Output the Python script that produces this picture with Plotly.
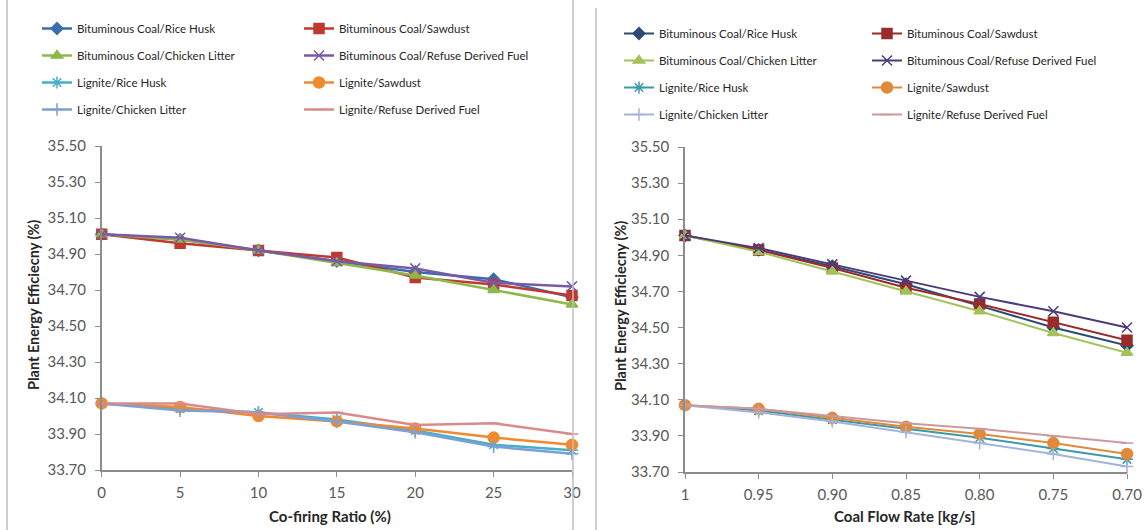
import plotly.graph_objects as go

W, H = 1145, 530

series_names = [
    "Bituminous Coal/Rice Husk", "Bituminous Coal/Sawdust",
    "Bituminous Coal/Chicken Litter", "Bituminous Coal/Refuse Derived Fuel",
    "Lignite/Rice Husk", "Lignite/Sawdust",
    "Lignite/Chicken Litter", "Lignite/Refuse Derived Fuel",
]

# Left chart: co-firing ratio
cofiring_ratio = ["0", "5", "10", "15", "20", "25", "30"]
left_bc_rh = [35.01, 34.98, 34.92, 34.86, 34.80, 34.76, 34.66]
left_bc_sd = [35.01, 34.96, 34.92, 34.88, 34.77, 34.73, 34.67]
left_bc_cl = [35.01, 34.98, 34.92, 34.85, 34.78, 34.70, 34.62]
left_bc_rdf = [35.01, 34.99, 34.92, 34.86, 34.82, 34.74, 34.72]
left_l_rh = [34.07, 34.04, 34.02, 33.98, 33.92, 33.84, 33.81]
left_l_sd = [34.07, 34.05, 34.00, 33.97, 33.93, 33.88, 33.84]
left_l_cl = [34.07, 34.03, 34.02, 33.97, 33.91, 33.83, 33.79]
left_l_rdf = [34.07, 34.07, 34.01, 34.02, 33.95, 33.96, 33.90]

# Right chart: coal flow rate
coal_flow = ["1", "0.95", "0.90", "0.85", "0.80", "0.75", "0.70"]
right_bc_rh = [35.01, 34.93, 34.84, 34.74, 34.62, 34.50, 34.40]
right_bc_sd = [35.01, 34.93, 34.83, 34.72, 34.63, 34.53, 34.43]
right_bc_cl = [35.01, 34.92, 34.81, 34.70, 34.59, 34.47, 34.36]
right_bc_rdf = [35.01, 34.94, 34.85, 34.76, 34.67, 34.59, 34.50]
right_l_rh = [34.07, 34.04, 33.99, 33.94, 33.89, 33.83, 33.77]
right_l_sd = [34.07, 34.05, 34.00, 33.95, 33.91, 33.86, 33.80]
right_l_cl = [34.07, 34.03, 33.98, 33.92, 33.86, 33.80, 33.73]
right_l_rdf = [34.07, 34.05, 34.01, 33.97, 33.94, 33.90, 33.86]

y_ticks = [33.70, 33.90, 34.10, 34.30, 34.50, 34.70, 34.90, 35.10, 35.30, 35.50]

left_values = [left_bc_rh, left_bc_sd, left_bc_cl, left_bc_rdf,
               left_l_rh, left_l_sd, left_l_cl, left_l_rdf]
right_values = [right_bc_rh, right_bc_sd, right_bc_cl, right_bc_rdf,
                right_l_rh, right_l_sd, right_l_cl, right_l_rdf]

left_colors = ["#3A6CB0", "#C0392F", "#8DB84A", "#7A5AA6",
               "#45AFC9", "#F08A2E", "#7C9FD6", "#D98A8A"]
right_colors = ["#2B4A74", "#9B2B2B", "#A3C25A", "#4B3B7A",
                "#3B9AA8", "#E08A3A", "#A4B4D8", "#C99AA0"]
symbols = ["diamond", "square", "triangle-up", "x-thin-open",
           "asterisk-open", "circle", "cross-thin-open", "line-ew-open"]
sizes = [9, 10, 10, 10, 10, 11, 9, 9]

FONT = "Lato"

fig = go.Figure()

def px_x(p):
    return p / W

def px_y(p):
    return 1 - p / H

for i, name in enumerate(series_names):
    leg = "legend" if i % 2 == 0 else "legend2"
    fig.add_trace(go.Scatter(
        x=cofiring_ratio, y=left_values[i], name=name, mode="lines+markers",
        xaxis="x", yaxis="y", legend=leg, legendgroup="L%d" % i,
        line=dict(color=left_colors[i], width=2.5),
        marker=dict(symbol=symbols[i], size=sizes[i], color=left_colors[i],
                    line=dict(color=left_colors[i], width=1.5)),
        cliponaxis=False,
    ))
for i, name in enumerate(series_names):
    leg = "legend3" if i % 2 == 0 else "legend4"
    fig.add_trace(go.Scatter(
        x=coal_flow, y=right_values[i], name=name, mode="lines+markers",
        xaxis="x2", yaxis="y2", legend=leg, legendgroup="R%d" % i,
        line=dict(color=right_colors[i], width=2),
        marker=dict(symbol=symbols[i], size=sizes[i], color=right_colors[i],
                    line=dict(color=right_colors[i], width=1.5)),
        cliponaxis=False,
    ))

axis_common = dict(showgrid=False, zeroline=False, showline=True,
                   linecolor="#8C8C8C", linewidth=1.5, ticks="outside",
                   ticklen=5, tickcolor="#8C8C8C", automargin=False,
                   tickfont=dict(family=FONT, size=15, color="#595959"))

fig.update_layout(
    width=W, height=H,
    margin=dict(l=0, r=0, t=0, b=0),
    paper_bgcolor="white", plot_bgcolor="white",
    font=dict(family=FONT, color="#404040"),
    showlegend=True,
    xaxis=dict(domain=[px_x(101.7), px_x(572)], type="category",
               range=[0, 6], anchor="y", ticklabelstandoff=3, **axis_common),
    yaxis=dict(domain=[px_y(470), px_y(146)], range=[33.70, 35.50],
               tickvals=y_ticks, tickformat=".2f", anchor="x",
               ticklabelstandoff=6, **axis_common),
    xaxis2=dict(domain=[px_x(685), px_x(1127)], type="category",
                range=[0, 6], anchor="y2", ticklabelstandoff=3, **axis_common),
    yaxis2=dict(domain=[px_y(472), px_y(147)], range=[33.70, 35.50],
                tickvals=y_ticks, tickformat=".2f", anchor="x2",
                ticklabelstandoff=6, **axis_common),
)

leg_common = dict(orientation="v", bgcolor="rgba(0,0,0,0)", borderwidth=0,
                  font=dict(family=FONT, size=11.5, color="#262626"),
                  tracegroupgap=8, itemwidth=30, xanchor="left", yanchor="top")
fig.update_layout(
    legend=dict(x=px_x(37), y=px_y(14), **leg_common),
    legend2=dict(x=px_x(299), y=px_y(14), **leg_common),
    legend3=dict(x=px_x(619), y=px_y(19), **leg_common),
    legend4=dict(x=px_x(867), y=px_y(19), **leg_common),
)

annotations = [
    dict(text="<b>Co-firing Ratio (%)</b>", x=px_x(330), y=px_y(516), size=15),
    dict(text="<b>Coal Flow Rate [kg/s]</b>", x=px_x(904), y=px_y(516), size=15),
    dict(text="<b>Plant Energy Efficiecny (%)</b>", x=px_x(33), y=px_y(305),
         textangle=-90, size=14.5),
    dict(text="<b>Plant Energy Efficiecny (%)</b>", x=px_x(620), y=px_y(306),
         textangle=-90, size=14.5),
]
for a in annotations:
    sz = a.pop("size")
    fig.add_annotation(xref="paper", yref="paper", showarrow=False,
                       xanchor="center", yanchor="middle",
                       font=dict(family=FONT, size=sz, color="#262626"), **a)

for x0, y0 in [(7, 0), (573, 0), (596, 8)]:
    fig.add_shape(type="line", xref="paper", yref="paper",
                  x0=px_x(x0), x1=px_x(x0), y0=px_y(y0), y1=0,
                  line=dict(color="#BFBFBF", width=1.5))

fig.write_html("out.html", config={"displayModeBar": False},
               post_script="document.body.style.margin='0';")
